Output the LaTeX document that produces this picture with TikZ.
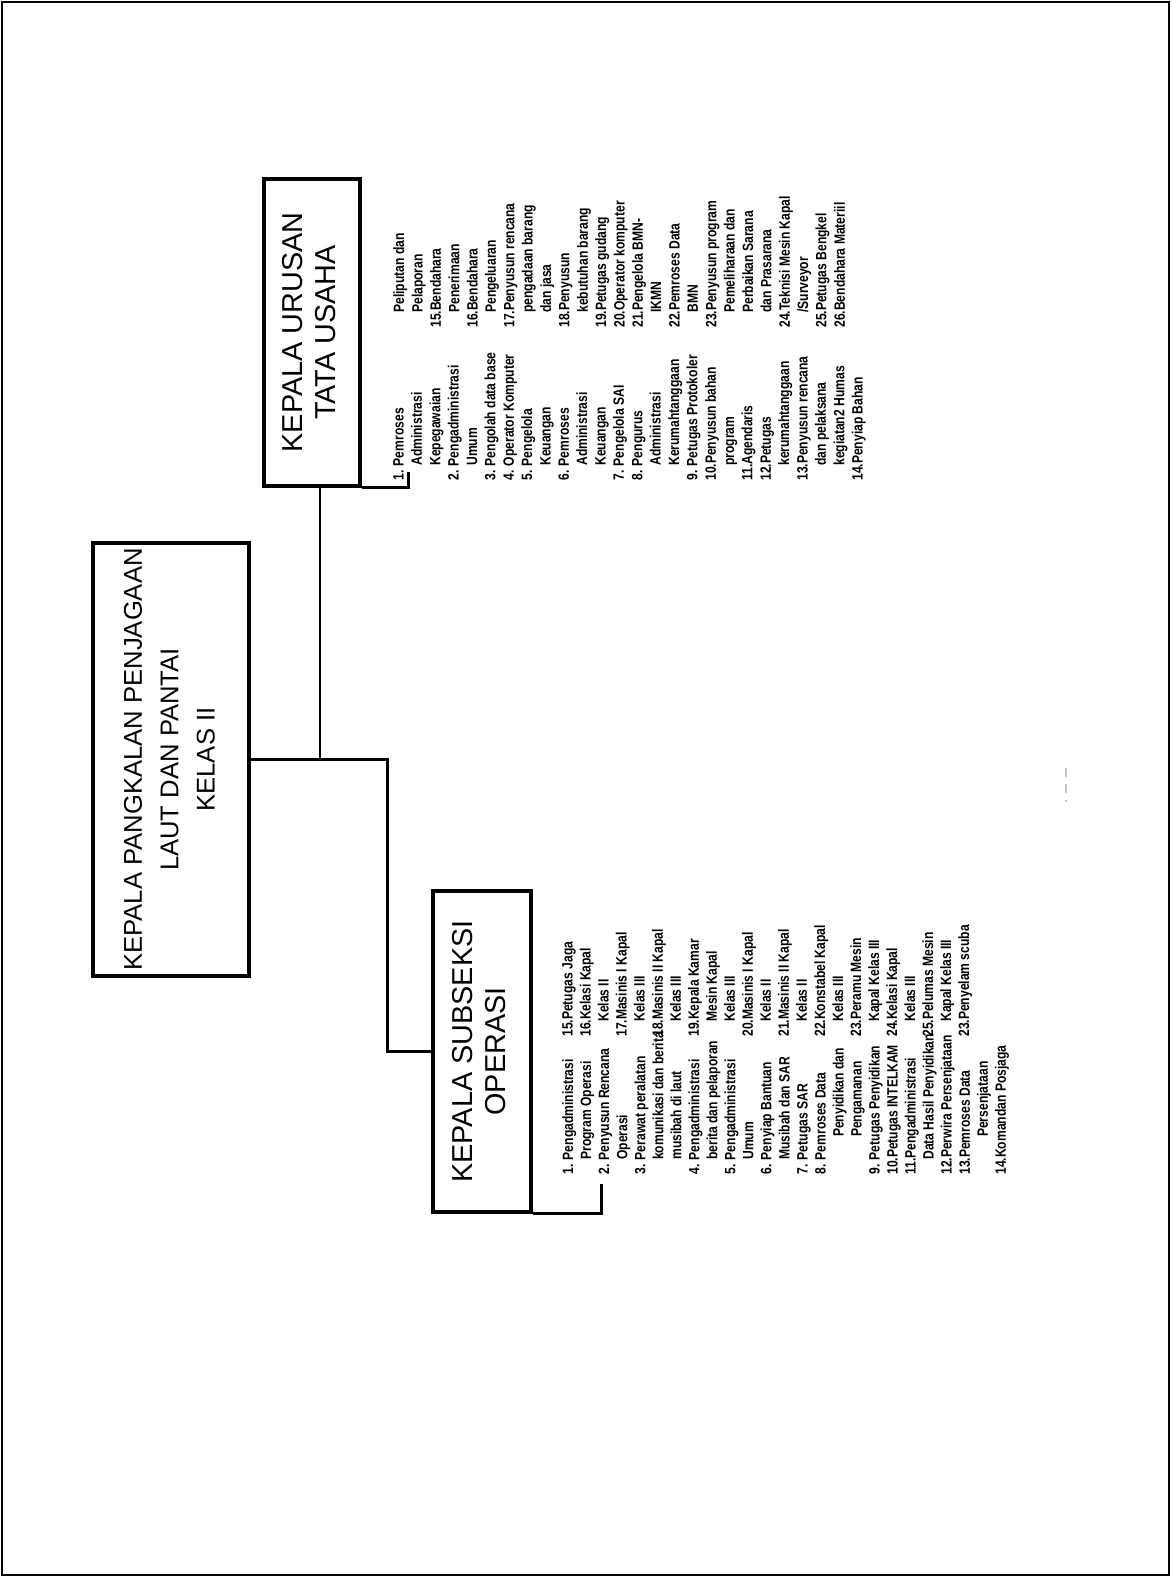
\documentclass[tikz,border=0pt]{standalone}
\usepackage{fontspec}
\setmainfont{Liberation Sans}
\newfontfamily\dutyfont[FakeStretch=0.81]{Liberation Sans Bold}
\usetikzlibrary{positioning}
\newcommand{\dutysize}{\fontsize{8.5}{10.45}\selectfont}
\newcommand{\wrapline}{\hspace*{8.5pt}}
\newcommand{\deepline}{\hspace*{21.5pt}}

\begin{document}
\begin{tikzpicture}[x=0.02cm,y=-0.02cm,
  headbox/.style={draw, line width=2pt, inner sep=0pt},
  dutylist/.style={rotate=90, anchor=north west, inner sep=0pt, align=left, font=\dutyfont\dutysize},
  link/.style={line width=1.7pt}]
\useasboundingbox (0,0) rectangle (1171,1577);
\draw [line width=1.1pt] (2,2) rectangle (1169,1575);

% boxes
\node [headbox, minimum width=3.12cm, minimum height=8.66cm] (kepala) at (171,759.5)
  {\rotatebox{90}{\fontsize{14.6}{20.7}\selectfont\begin{tabular}{@{}c@{}}KEPALA PANGKALAN PENJAGAAN\\LAUT DAN PANTAI\\KELAS II\end{tabular}}};
\node [headbox, minimum width=1.92cm, minimum height=6.14cm] (tatausaha) at (312,332.5)
  {\rotatebox{90}{\fontsize{16.4}{18.7}\selectfont\begin{tabular}{@{}c@{}}KEPALA URUSAN\\TATA USAHA\end{tabular}}};
\node [headbox, minimum width=1.96cm, minimum height=6.42cm] (subseksi) at (482,1051.5)
  {\rotatebox{90}{\fontsize{16.4}{18.7}\selectfont\begin{tabular}{@{}c@{}}KEPALA SUBSEKSI\\OPERASI\end{tabular}}};

% connectors
\coordinate (tap) at (320,759.5);
\coordinate (split) at (387,759.5);
\draw [link] (tatausaha.south -| tap) -- (tap);
\draw [link] (kepala.east) -- (split) |- (subseksi.west);
\draw [link] (tatausaha.south east) -- ++(47,0) -- ++(0,-16);
\draw [link] (subseksi.south east) -- ++(69,0) -- ++(0,-30);

% tugas tata usaha
\node [dutylist] (tuA) at (393,481) {1. Pemroses\\
\wrapline Administrasi\\
\wrapline Kepegawaian\\
2. Pengadministrasi\\
\wrapline Umum\\
3. Pengolah data base\\
4. Operator Komputer\\
5. Pengelola\\
\wrapline Keuangan\\
6. Pemroses\\
\wrapline Administrasi\\
\wrapline Keuangan\\
7. Pengelola SAI\\
8. Pengurus\\
\wrapline Administrasi\\
\wrapline Kerumahtanggaan\\
9. Petugas Protokoler\\
10.Penyusun bahan\\
\wrapline program\\
11.Agendaris\\
12.Petugas\\
\wrapline kerumahtanggaan\\
13.Penyusun rencana\\
\wrapline dan pelaksana\\
\wrapline kegiatan2 Humas\\
14.Penyiap Bahan};
\node [dutylist] (tuB) at (393,328) {\wrapline Peliputan dan\\
\wrapline Pelaporan\\
15.Bendahara\\
\wrapline Penerimaan\\
16.Bendahara\\
\wrapline Pengeluaran\\
17.Penyusun rencana\\
\wrapline pengadaan barang\\
\wrapline dan jasa\\
18.Penyusun\\
\wrapline kebutuhan barang\\
19.Petugas gudang\\
20.Operator komputer\\
21.Pengelola BMN-\\
\wrapline IKMN\\
22.Pemroses Data\\
\wrapline BMN\\
23.Penyusun program\\
\wrapline Pemeliharaan dan\\
\wrapline Perbaikan Sarana\\
\wrapline dan Prasarana\\
24.Teknisi Mesin Kapal\\
\wrapline /Surveyor\\
25.Petugas Bengkel\\
26.Bendahara Materiil};

% tugas operasi
\node [dutylist, font=\dutyfont\fontsize{8.5}{10.26}\selectfont] (opA) at (562,1175) {1. Pengadministrasi\\
\wrapline Program Operasi\\
2. Penyusun Rencana\\
\wrapline Operasi\\
3. Perawat peralatan\\
\wrapline komunikasi dan berita\\
\wrapline musibah di laut\\
4. Pengadministrasi\\
\wrapline berita dan pelaporan\\
5. Pengadministrasi\\
\wrapline Umum\\
6. Penyiap Bantuan\\
\wrapline Musibah dan SAR\\
7. Petugas SAR\\
8. Pemroses Data\\
\deepline Penyidikan dan\\
\deepline Pengamanan\\
9. Petugas Penyidikan\\
10.Petugas INTELKAM\\
11.Pengadministrasi\\
\wrapline Data Hasil Penyidikan\\
12.Perwira Persenjataan\\
13.Pemroses Data\\
\deepline Persenjataan\\
14.Komandan Posjaga};
\node [dutylist, font=\dutyfont\fontsize{8.5}{10.26}\selectfont] (opB) at (562,1037) {15.Petugas Jaga\\
16.Kelasi Kapal\\
\wrapline Kelas II\\
17.Masinis I Kapal\\
\wrapline Kelas III\\
18.Masinis II Kapal\\
\wrapline Kelas III\\
19.Kepala Kamar\\
\wrapline Mesin Kapal\\
\wrapline Kelas III\\
20.Masinis I Kapal\\
\wrapline Kelas II\\
21.Masinis II Kapal\\
\wrapline Kelas II\\
22.Konstabel Kapal\\
\wrapline Kelas III\\
23.Peramu Mesin\\
\wrapline Kapal Kelas III\\
24.Kelasi Kapal\\
\wrapline Kelas III\\
25.Pelumas Mesin\\
\wrapline Kapal Kelas III\\
23.Penyelam scuba};

% sisa goresan
\draw [gray!45, line width=0.8pt, dash pattern=on 5pt off 4pt] (1066,768) -- (1066,802);
\end{tikzpicture}
\end{document}
